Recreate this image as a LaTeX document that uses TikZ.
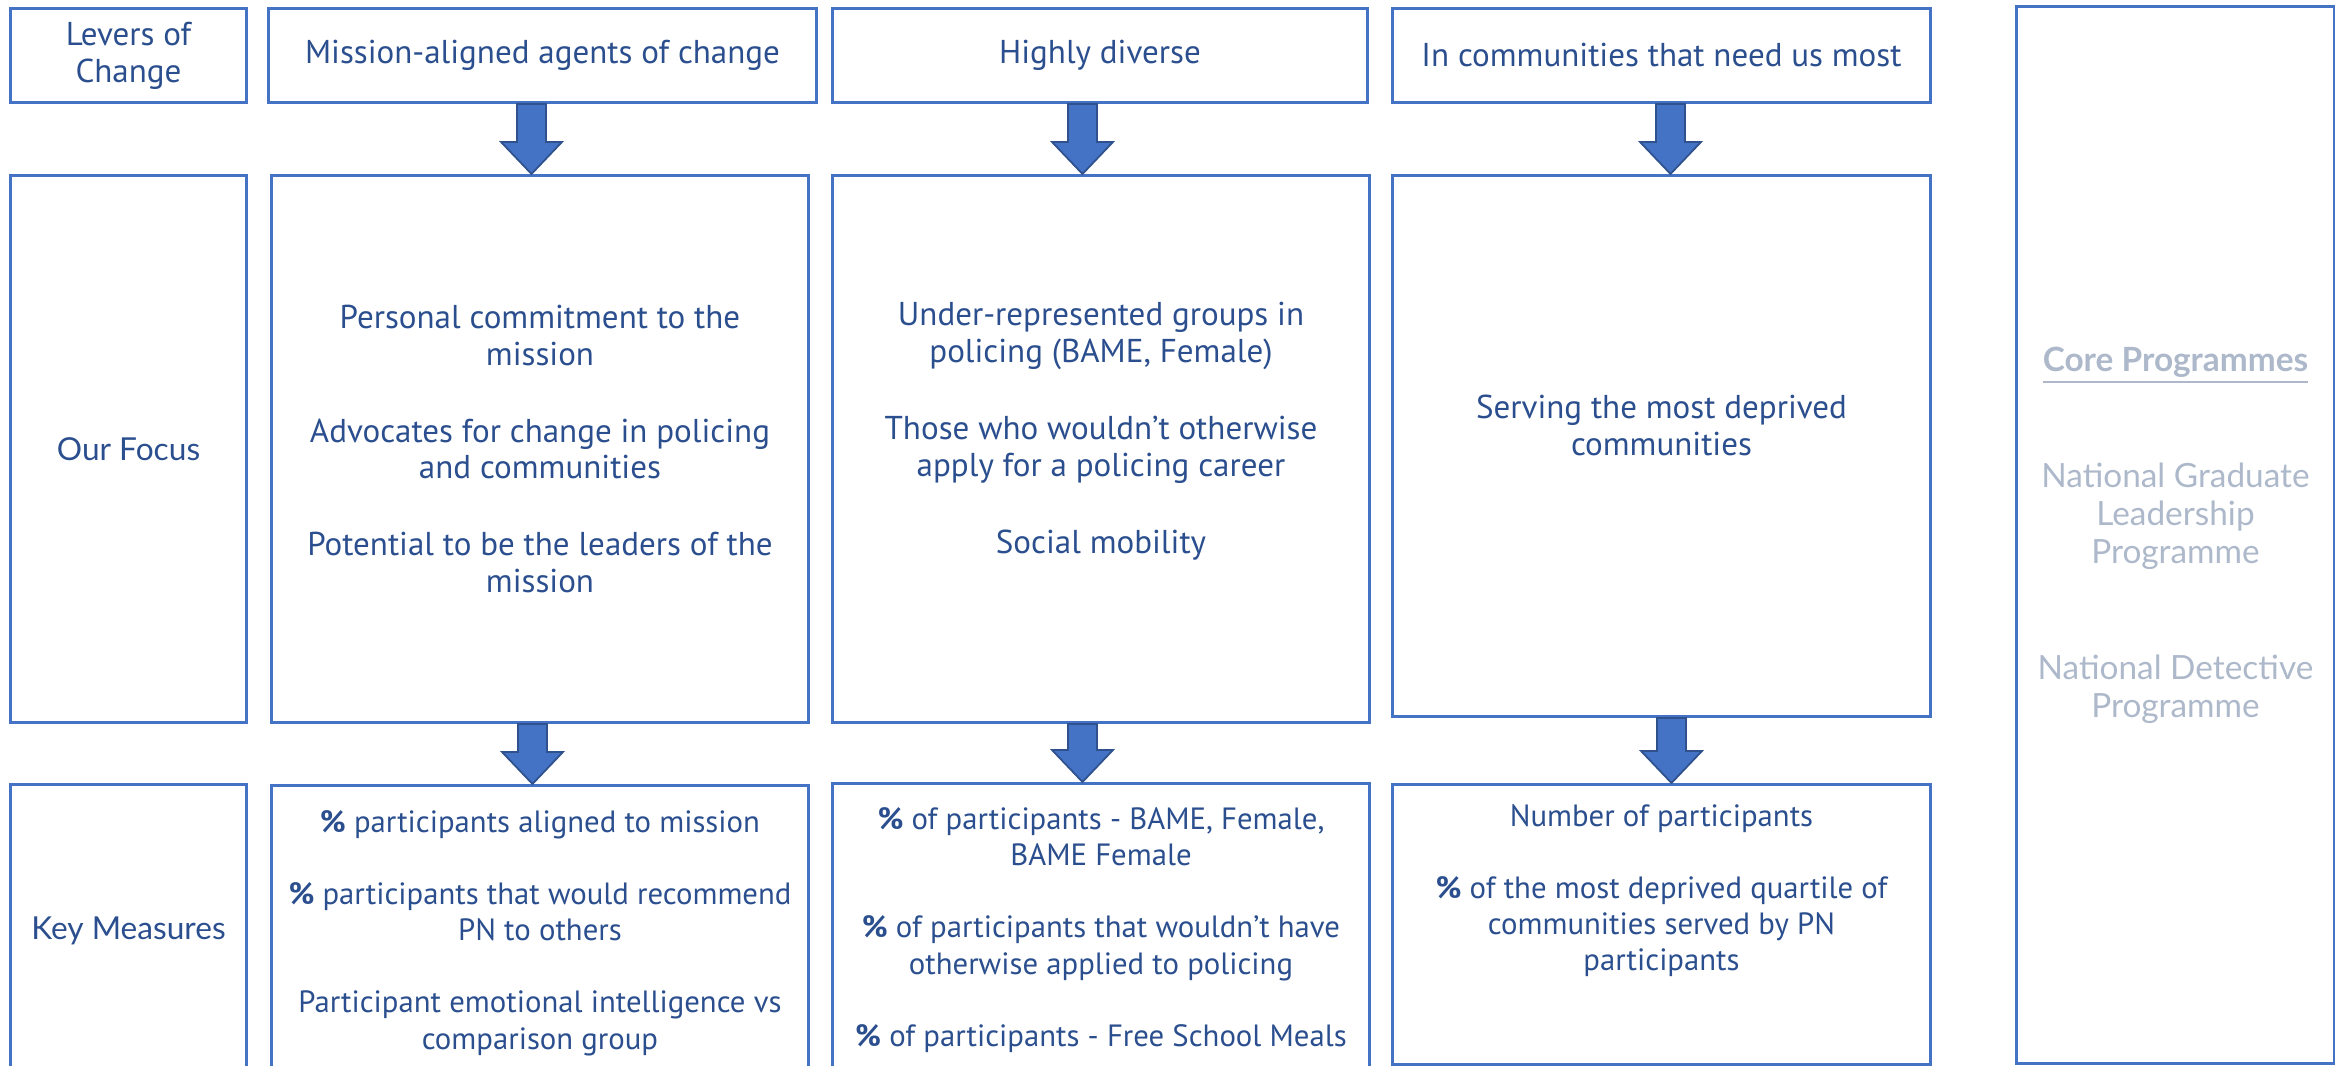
\documentclass[tikz,border=0pt]{standalone}
\usepackage{fontspec}
\setmainfont{PT Sans}
\newfontfamily\labelfont{Lato}
\usetikzlibrary{positioning,calc}

\definecolor{boxblue}{HTML}{4472C4}
\definecolor{txtblue}{HTML}{2B4F8E}
\definecolor{arrowedge}{HTML}{2F528F}
\definecolor{coregrey}{HTML}{ADB9CA}

\tikzset{
  box/.style={draw=boxblue, line width=0.85pt, anchor=north west, inner sep=0pt,
    align=center, text=txtblue, font=\fontsize{9.4}{10.5}\selectfont},
  rowlab/.style={box, font=\labelfont\fontsize{9}{10.5}\selectfont},
  txt/.style={text=txtblue, align=center, inner sep=0pt, font=\fontsize{9.4}{10.5}\selectfont},
  smalltxt/.style={txt, font=\fontsize{8.75}{10.3}\selectfont},
  fat/.style={fill=boxblue, draw=arrowedge, line width=0.5pt,
    to path={let \p1=(\tikztostart), \p2=(\tikztotarget) in
      (\x1-1.45mm,\y1) -- (\x1-1.45mm,\y2+3.2mm) -- (\x1-3.05mm,\y2+3.2mm)
      -- (\x1,\y2) -- (\x1+3.05mm,\y2+3.2mm) -- (\x1+1.45mm,\y2+3.2mm)
      -- (\x1+1.45mm,\y1) -- cycle}}
}

\begin{document}
\begin{tikzpicture}
  \useasboundingbox (0,0) rectangle (23.35,-10.66);
  \clip (0,0) rectangle (23.35,-10.66);

  % top row: levers
  \node[box, minimum width=2.36cm, minimum height=0.94cm] (lev) at (0.09,-0.07) {Levers of\\Change};
  \node[box, minimum width=5.48cm, minimum height=0.94cm] (m1) at (2.67,-0.07) {Mission-aligned agents of change};
  \node[box, minimum width=5.35cm, minimum height=0.94cm] (m2) at (8.31,-0.07) {Highly diverse};
  \node[box, minimum width=5.38cm, minimum height=0.94cm] (m3) at (13.91,-0.07) {In communities that need us most};

  % middle row: focus
  \node[rowlab, minimum width=2.36cm, minimum height=5.47cm] (foclab) at (0.09,-1.74) {Our Focus};
  \node[box, minimum width=5.37cm, minimum height=5.47cm] (foc1) at (2.70,-1.74) {};
  \node[box, minimum width=5.37cm, minimum height=5.47cm] (foc2) at (8.31,-1.74) {};
  \node[box, minimum width=5.38cm, minimum height=5.41cm] (foc3) at (13.91,-1.74) {};

  \node[txt] (foc1t) at (foc1.center) {Personal commitment to the\\mission\\[4mm]
    Advocates for change in policing\\and communities\\[4mm]
    Potential to be the leaders of the\\mission};
  \node[txt] (foc2t) at ([yshift=1.75mm]foc2.center) {Under-represented groups in\\policing (BAME, Female)\\[4mm]
    Those who wouldn’t otherwise\\apply for a policing career\\[4mm]
    Social mobility};
  \node[txt] (foc3t) at ([yshift=2.05mm]foc3.center) {Serving the most deprived\\communities};

  % bottom row: measures (runs off the page)
  \node[rowlab, minimum width=2.36cm, minimum height=2.92cm] (keylab) at (0.09,-7.83) {Key Measures};
  \node[box, minimum width=5.37cm, minimum height=2.91cm] (meas1) at (2.70,-7.84) {};
  \node[box, minimum width=5.37cm, minimum height=2.93cm] (meas2) at (8.31,-7.82) {};
  \node[box, minimum width=5.38cm, minimum height=2.80cm] (meas3) at (13.91,-7.83) {};

  \node[smalltxt] (meas1t) at ([yshift=-0.2mm]meas1.center) {\textbf{\%} participants aligned to mission\\[3.6mm]
    \textbf{\%} participants that would recommend\\PN to others\\[3.6mm]
    Participant emotional intelligence vs\\comparison group};
  \node[smalltxt] (meas2t) at (meas2.center) {\textbf{\%} of participants - BAME, Female,\\BAME Female\\[3.6mm]
    \textbf{\%} of participants that wouldn’t have\\otherwise applied to policing\\[3.6mm]
    \textbf{\%} of participants - Free School Meals};
  \node[smalltxt] (meas3t) at ([yshift=3.4mm]meas3.center) {Number of participants\\[3.6mm]
    \textbf{\%} of the most deprived quartile of\\communities served by PN\\participants};

  % right column
  \node[box, minimum width=3.18cm, minimum height=10.57cm, text=coregrey,
    font=\labelfont\fontsize{9.5}{10.8}\selectfont] (core) at (20.15,-0.05)
    {\textbf{\underline{Core Programmes}}\\[7.8mm]
     National Graduate\\Leadership\\Programme\\[7.8mm]
     National Detective\\Programme};

  % block arrows
  \draw[fat] ([xshift=-1.1mm]m1.south) to (foc1.north);
  \draw[fat] ([xshift=-1.75mm]m2.south) to (foc2.north);
  \draw[fat] ([xshift=0.9mm]m3.south) to (foc3.north);
  \draw[fat] ([xshift=-0.75mm]foc1.south) to (meas1.north);
  \draw[fat] ([xshift=-1.85mm]foc2.south) to (meas2.north);
  \draw[fat] ([xshift=1mm]foc3.south) to (meas3.north);
\end{tikzpicture}
\end{document}
